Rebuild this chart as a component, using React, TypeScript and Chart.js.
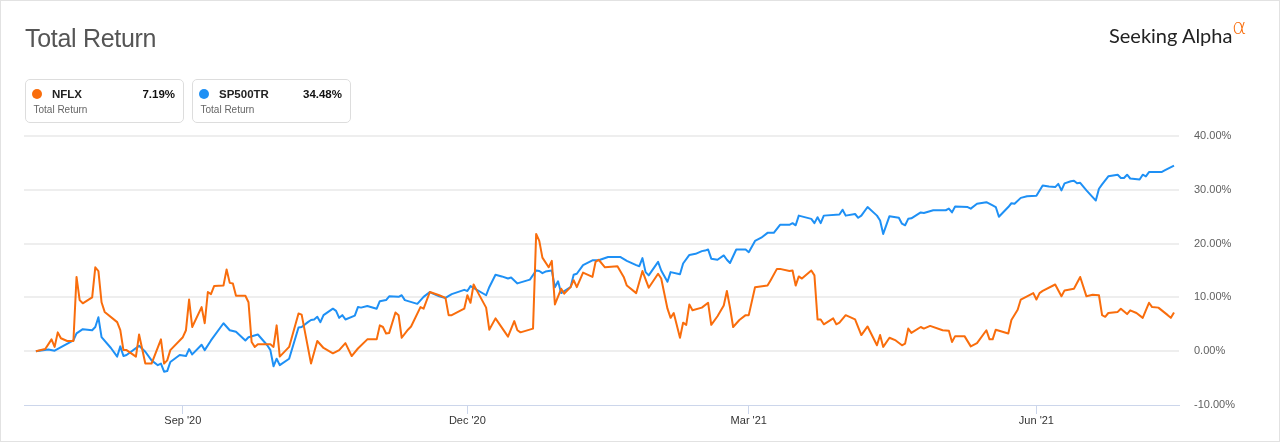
import React, { useEffect, useRef } from 'react';
import { Chart, registerables } from 'chart.js';

Chart.register(...registerables);

// calendar days counted from 16 Jul 2020
const nflxDays = [
  0, 3, 5, 6, 7, 8, 10, 12, 13, 14, 15, 18, 19, 20, 21, 22, 26, 27, 28, 29,
  32, 33, 35, 37, 40, 41, 42, 43, 47, 48, 49, 50, 53, 54, 55, 56, 57, 60, 61, 62,
  63, 64, 67, 68, 69, 70, 71, 75, 76, 77, 78, 81, 84, 85, 88, 90, 92, 95, 97, 99,
  101, 103, 106, 109, 110, 111, 112, 113, 115, 116, 117, 119, 120, 123, 124, 126, 129, 131, 132, 133,
  137, 138, 139, 140, 141, 144, 145, 147, 151, 153, 154, 155, 159, 160, 161, 162, 164, 165, 166, 168,
  169, 171, 172, 173, 175, 178, 179, 180, 182, 186, 188, 189, 192, 194, 196, 199, 200, 202, 203, 204,
  206, 207, 208, 209, 210, 213, 215, 216, 218, 220, 221, 222, 223, 225, 227, 228, 230, 234, 235, 237,
  238, 241, 242, 243, 244, 245, 248, 249, 250, 251, 252, 255, 256, 257, 259, 262, 264, 266, 269, 270,
  271, 273, 275, 277, 278, 279, 280, 283, 284, 286, 290, 292, 293, 294, 297, 299, 301, 304, 305, 306,
  307, 311, 312, 314, 315, 319, 320, 321, 322, 326, 328, 329, 332, 334, 336, 338, 340, 341, 342, 343,
  346, 347, 349, 350, 352, 354, 356, 357, 359, 362, 363, 364,
];
const nflxReturns = [
  0, 0.4, 2.2, 0.8, 3.5, 2.4, 1.9, 1.9, 13.8, 9.5, 8.9, 10, 15.6, 14.9, 9.1, 7.3, 5.4, 3.9, 0.2, 0.2,
  -1.0, 3.1, -2.3, -2.3, 2.2, -2.3, -1.7, 0.2, 2.6, 3.9, 9.6, 4.5, 8.2, 5.2, 11, 10.6, 12.1, 12.2, 15.2, 12.7,
  12.6, 10.3, 10.3, 9.1, 1.7, 0.8, 1.3, 1.3, 0.8, 4.8, -1.0, 0.8, 7, 6.8, -2.3, 1.9, 0.6, -0.4, 0.2, 1.5,
  -0.9, 0.5, 2.2, 2.2, 4.8, 4.5, 3.3, 3.4, 7.2, 6.7, 2.5, 4, 4.6, 8.2, 7.9, 11, 10.4, 9.9, 6.7, 6.7,
  7.9, 10.4, 9, 12.4, 11.3, 8.1, 4, 6.1, 2.7, 5.6, 3.9, 3.5, 4.2, 21.8, 20.5, 17.4, 15.6, 16.8, 8.7, 11.6,
  10.7, 11.9, 13.2, 11.9, 14.6, 13.8, 16.6, 17, 15.6, 15.8, 13.8, 12.2, 10.8, 14.9, 11.8, 14.4, 13.5, 7.9, 6.2, 7.1,
  2.5, 5.3, 4.9, 8.7, 7.6, 8.1, 9, 4.9, 6.5, 8.5, 11.2, 8.1, 4.5, 5.8, 6.7, 6.7, 11.9, 12.2, 13.2, 15.3,
  15.3, 14.9, 15, 12.2, 13.9, 13.5, 15, 14.1, 5.9, 5.9, 5, 6.1, 5, 5.3, 6.7, 5.9, 3, 4.6, 1.1, 3,
  0.8, 2.5, 2, 1.1, 1.4, 4.2, 3.4, 4.5, 4.2, 4.7, 3.9, 3.8, 1.7, 2.8, 2.8, 0.9, 1.5, 3.9, 2.2, 2.2,
  4, 3.3, 5.8, 7.7, 9.6, 10.8, 9.6, 10.8, 11.2, 12.4, 10.2, 11.3, 11.6, 13.8, 10.2, 10.5, 10.4, 6.7, 6.4, 7.1,
  7.3, 7.9, 6.9, 7.6, 7.1, 6.2, 9, 8.2, 8.1, 6.7, 6.2, 7.19,
];

const spxDays = [
  0, 4, 6, 12, 13, 15, 18, 19, 20, 21, 24, 26, 27, 28, 29, 33, 35, 37, 39, 40,
  41, 42, 43, 46, 48, 49, 50, 53, 54, 56, 60, 62, 64, 67, 68, 71, 74, 75, 76, 77,
  78, 81, 84, 85, 87, 88, 89, 90, 91, 92, 95, 96, 97, 98, 99, 102, 103, 104, 106, 109,
  110, 112, 113, 116, 117, 118, 122, 124, 126, 127, 129, 131, 133, 137, 138, 139, 144, 145, 147, 149,
  151, 152, 154, 158, 160, 161, 162, 163, 165, 166, 167, 168, 171, 172, 173, 175, 178, 180, 183, 187,
  189, 192, 193, 194, 195, 196, 199, 200, 202, 203, 206, 207, 209, 211, 213, 214, 215, 216, 218, 220,
  221, 222, 224, 227, 228, 230, 232, 234, 236, 238, 241, 242, 243, 244, 248, 249, 250, 251, 252, 257,
  258, 259, 262, 263, 264, 266, 269, 270, 271, 273, 276, 277, 278, 279, 280, 283, 284, 287, 291, 292,
  293, 294, 298, 299, 301, 304, 306, 307, 308, 311, 312, 313, 315, 317, 320, 322, 324, 326, 327, 328,
  329, 331, 332, 333, 334, 336, 339, 340, 341, 343, 346, 347, 348, 349, 350, 353, 354, 355, 356, 360,
  361, 364,
];
const spxReturns = [
  0, 0.3, 0.1, 2, 3.3, 4.1, 3.9, 4.5, 6.3, 2.6, 0.6, -1.0, 0.9, -0.9, -0.7, 1.0, -0.1, -1.7, -2.6, -2.3,
  -3.8, -3.7, -2.0, -0.7, -0.9, 0.4, -0.6, 1.2, 0.2, 2, 5.2, 3.9, 3.6, 2, 2.6, 3.1, 1.1, 0.2, -2.8, -1.4,
  -2.6, -1.4, 4.4, 4.5, 5.4, 5.8, 5.9, 6.4, 5.4, 6.7, 7.9, 7.5, 6.2, 6.7, 5.9, 6.6, 8.2, 8.1, 8.4, 7.9,
  9.3, 9.5, 10.2, 10.1, 10.4, 9.5, 8.8, 10.1, 11, 10.7, 10.2, 9.9, 10.6, 11.4, 11.2, 12.1, 10.4, 11.9, 14.2, 13.9,
  13.5, 13.7, 12.6, 13.3, 15, 14.9, 14.5, 14.8, 15, 11.9, 13, 10.8, 11.9, 14.2, 14.4, 16, 16.9, 16.9, 17.5, 17.5,
  16.8, 16, 15.8, 17.3, 14.7, 14.1, 16.6, 15, 12.9, 14.7, 14.3, 16.3, 17.9, 18.1, 18.6, 18.7, 18.9, 17.2, 17, 17.8,
  17, 16.4, 18.9, 18.9, 18.4, 20.5, 21.1, 22, 22, 23.5, 23.5, 23.8, 23.4, 25.2, 24.6, 23.8, 24.9, 23.8, 25.2, 25.4,
  26.3, 25.2, 25.5, 24.8, 25.2, 26.8, 25.2, 24.3, 21.8, 25.1, 24.8, 23.7, 23.4, 24.6, 24.7, 25.8, 25.7, 26.2, 26.2, 26.5,
  25.8, 26.9, 26.8, 26.5, 27.4, 27.7, 27.1, 26.8, 25, 26.8, 27.5, 27.4, 28.5, 28.8, 28.9, 30.8, 30.6, 30.5, 31.1, 29.9,
  31.2, 31.6, 31.7, 31.2, 31.3, 29.9, 28, 30.2, 31, 32.5, 32.8, 32.2, 32.2, 32.8, 32.1, 31.9, 32.8, 32.5, 33.3, 33.3,
  33.6, 34.48,
];

const seriesNames = ['NFLX', 'SP500TR'];
const seriesColors = ['#f96d0c', '#1e90f5'];
const lastReturns = ['7.19%', '34.48%'];

// first day of Sep '20, Dec '20, Mar '21, Jun '21
const xTickDays = [47, 138, 228, 320];
const xTickLabels = ["Sep '20", "Dec '20", "Mar '21", "Jun '21"];

const LegendBox = ({ left, name, value, color }: { left: number; name: string; value: string; color: string }) => (
  <div
    style={{
      position: 'absolute',
      left,
      top: 79,
      width: 159,
      height: 44,
      border: '1px solid #dddddd',
      borderRadius: 5,
      boxSizing: 'border-box',
    }}
  >
    <span
      style={{
        position: 'absolute',
        left: 5.5,
        top: 8.5,
        width: 10,
        height: 10,
        borderRadius: '50%',
        background: color,
      }}
    />
    <span
      style={{
        position: 'absolute',
        left: 26,
        top: 6.5,
        lineHeight: '14px',
        fontSize: 11.5,
        fontWeight: 'bold',
        color: '#222',
      }}
    >
      {name}
    </span>
    <span
      style={{
        position: 'absolute',
        right: 8,
        top: 6.5,
        lineHeight: '14px',
        fontSize: 11.5,
        fontWeight: 'bold',
        color: '#111',
      }}
    >
      {value}
    </span>
    <span
      style={{
        position: 'absolute',
        left: 7.5,
        top: 24,
        lineHeight: '12px',
        fontSize: 10,
        color: '#666',
      }}
    >
      Total Return
    </span>
  </div>
);

export default function App() {
  const canvasRef = useRef<HTMLCanvasElement>(null);
  const chartRef = useRef<Chart | null>(null);

  useEffect(() => {
    document.body.style.margin = '0';
    if (!canvasRef.current) return;
    if (chartRef.current) chartRef.current.destroy();

    chartRef.current = new Chart(canvasRef.current, {
      type: 'line',
      data: {
        datasets: [
          {
            label: seriesNames[0],
            data: nflxDays.map((d, i) => ({ x: d, y: nflxReturns[i] })),
            borderColor: seriesColors[0],
            borderWidth: 2,
            borderJoinStyle: 'round',
            pointRadius: 0,
            tension: 0,
          },
          {
            label: seriesNames[1],
            data: spxDays.map((d, i) => ({ x: d, y: spxReturns[i] })),
            borderColor: seriesColors[1],
            borderWidth: 2,
            borderJoinStyle: 'round',
            pointRadius: 0,
            tension: 0,
          },
        ],
      },
      options: {
        responsive: false,
        animation: false,
        layout: { padding: { left: 24, top: 136, right: 0, bottom: 0 } },
        plugins: {
          legend: { display: false },
          tooltip: { enabled: false },
        },
        scales: {
          x: {
            type: 'linear',
            min: -3.8,
            max: 365.6,
            afterBuildTicks: (axis) => {
              axis.ticks = xTickDays.map((value) => ({ value }));
            },
            afterFit: (axis) => {
              axis.height = 37;
            },
            grid: {
              drawOnChartArea: false,
              drawTicks: true,
              tickLength: 9,
              color: '#ccd6eb',
            },
            border: { display: true, color: '#ccd6eb', width: 1 },
            ticks: {
              autoSkip: false,
              maxRotation: 0,
              padding: 0,
              color: '#333',
              font: { family: 'Liberation Sans, Arial, sans-serif', size: 11 },
              callback: (value) => {
                const i = xTickDays.indexOf(Number(value));
                return i >= 0 ? xTickLabels[i] : '';
              },
            },
          },
          y: {
            position: 'right',
            min: -10,
            max: 40,
            afterFit: (axis) => {
              axis.width = 101;
            },
            grid: {
              drawTicks: false,
              lineWidth: 2,
              color: (ctx) => (ctx.tick && ctx.tick.value === -10 ? 'rgba(0,0,0,0)' : '#eeeeee'),
            },
            border: { display: false },
            ticks: {
              stepSize: 10,
              padding: 15,
              color: '#606060',
              font: { family: 'Liberation Sans, Arial, sans-serif', size: 11 },
              callback: (value) => `${Number(value).toFixed(2)}%`,
            },
          },
        },
      },
    });

    return () => {
      if (chartRef.current) {
        chartRef.current.destroy();
        chartRef.current = null;
      }
    };
  }, []);

  return (
    <div
      style={{
        position: 'relative',
        width: 1280,
        height: 442,
        overflow: 'hidden',
        background: '#fff',
        boxShadow: 'inset 0 0 0 1px #e2e2e2',
        fontFamily: 'Liberation Sans, Arial, sans-serif',
      }}
    >
      <canvas ref={canvasRef} width={1280} height={442} style={{ position: 'absolute', left: 0, top: 0 }} />
      <div
        style={{
          position: 'absolute',
          left: 25,
          top: 26,
          fontSize: 25,
          lineHeight: '25px',
          letterSpacing: -0.3,
          color: '#555',
          whiteSpace: 'nowrap',
        }}
      >
        Total Return
      </div>
      <div
        style={{
          position: 'absolute',
          left: 1109,
          top: 25,
          fontFamily: 'Lato, sans-serif',
          fontSize: 20,
          lineHeight: '20px',
          color: '#222',
          whiteSpace: 'nowrap',
        }}
      >
        Seeking Alpha
      </div>
      <div
        style={{
          position: 'absolute',
          left: 1232,
          top: 16,
          fontFamily: 'DejaVu Sans, sans-serif',
          fontWeight: 200,
          fontSize: 22,
          lineHeight: '22px',
          color: '#f96d0c',
        }}
      >
        α
      </div>
      {seriesNames.map((name, i) => (
        <LegendBox key={name} left={i === 0 ? 25 : 192} name={name} value={lastReturns[i]} color={seriesColors[i]} />
      ))}
    </div>
  );
}
